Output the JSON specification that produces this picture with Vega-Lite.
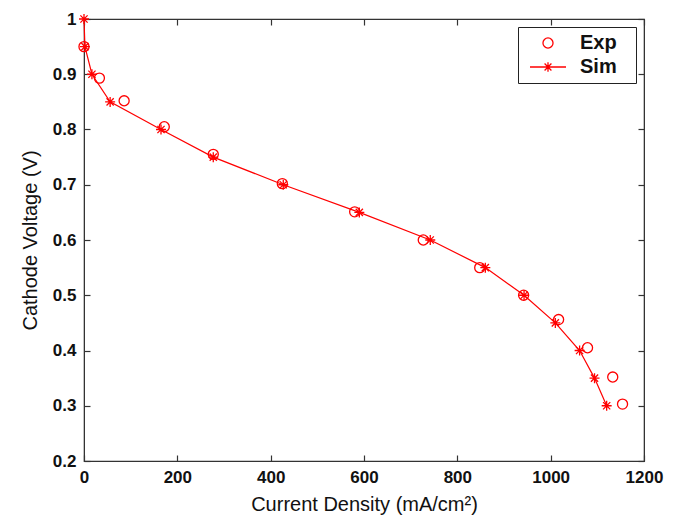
{
  "$schema": "https://vega.github.io/schema/vega-lite/v6.json",
  "width": 560,
  "height": 442,
  "autosize": {"type": "none"},
  "padding": {"left": 84, "top": 19, "right": 36, "bottom": 59},
  "background": "white",
  "config": {
    "font": "Liberation Sans",
    "view": {"stroke": "#333333", "strokeWidth": 1.2},
    "axis": {
      "grid": false,
      "domainColor": "#333333",
      "tickColor": "#333333",
      "labelColor": "#111111",
      "titleColor": "#111111",
      "labelFont": "Liberation Sans",
      "labelFontWeight": "bold",
      "labelFontSize": 17,
      "labelFlush": false,
      "titleFont": "Liberation Sans",
      "titleFontWeight": "normal",
      "titleFontSize": 20,
      "tickSize": -6,
      "tickWidth": 1.2
    }
  },
  "datasets": {
    "exp": [
      {"series": "Exp", "j": 0, "v": 0.95},
      {"series": "Exp", "j": 33, "v": 0.893},
      {"series": "Exp", "j": 86, "v": 0.852},
      {"series": "Exp", "j": 172, "v": 0.805},
      {"series": "Exp", "j": 277, "v": 0.755},
      {"series": "Exp", "j": 425, "v": 0.702},
      {"series": "Exp", "j": 580, "v": 0.651},
      {"series": "Exp", "j": 727, "v": 0.6},
      {"series": "Exp", "j": 848, "v": 0.55},
      {"series": "Exp", "j": 942, "v": 0.5},
      {"series": "Exp", "j": 1017, "v": 0.456},
      {"series": "Exp", "j": 1079, "v": 0.405},
      {"series": "Exp", "j": 1133, "v": 0.352},
      {"series": "Exp", "j": 1154, "v": 0.303}
    ],
    "sim": [
      {"series": "Sim", "j": 0, "v": 1.0},
      {"series": "Sim", "j": 2, "v": 0.95},
      {"series": "Sim", "j": 17, "v": 0.9},
      {"series": "Sim", "j": 56, "v": 0.85},
      {"series": "Sim", "j": 165, "v": 0.8},
      {"series": "Sim", "j": 277, "v": 0.75},
      {"series": "Sim", "j": 427, "v": 0.7},
      {"series": "Sim", "j": 590, "v": 0.65},
      {"series": "Sim", "j": 742, "v": 0.6},
      {"series": "Sim", "j": 860, "v": 0.55},
      {"series": "Sim", "j": 943, "v": 0.5},
      {"series": "Sim", "j": 1010, "v": 0.45},
      {"series": "Sim", "j": 1062, "v": 0.4},
      {"series": "Sim", "j": 1094, "v": 0.35},
      {"series": "Sim", "j": 1120, "v": 0.3}
    ]
  },
  "resolve": {"axis": {"x": "independent", "y": "independent"}},
  "layer": [
    {
      "data": {"name": "sim"},
      "mark": {"type": "line", "color": "#ff0000", "strokeWidth": 1.2},
      "encoding": {
        "x": {"field": "j", "type": "quantitative", "scale": {"domain": [0, 1200], "nice": false},
              "axis": {"orient": "bottom", "values": [0, 200, 400, 600, 800, 1000, 1200], "format": "d", "title": "Current Density (mA/cm²)", "labelPadding": 14, "titlePadding": 9}},
        "y": {"field": "v", "type": "quantitative", "scale": {"domain": [0.2, 1], "nice": false, "zero": false},
              "axis": {"orient": "left", "values": [0.2, 0.3, 0.4, 0.5, 0.6, 0.7, 0.8, 0.9, 1], "format": "~g", "title": "Cathode Voltage (V)", "labelPadding": 14, "titlePadding": 12}},
        "order": {"field": "v", "sort": "descending"}
      }
    },
    {
      "data": {"name": "sim"},
      "mark": {"type": "point", "shape": "M-1,0L1,0M0,-1L0,1M-0.72,-0.72L0.72,0.72M-0.72,0.72L0.72,-0.72", "size": 100, "filled": false, "stroke": "#ff0000", "strokeWidth": 1.3, "opacity": 1},
      "encoding": {
        "x": {"field": "j", "type": "quantitative", "scale": {"domain": [0, 1200], "nice": false},
              "axis": {"orient": "top", "values": [0, 200, 400, 600, 800, 1000, 1200], "labels": false, "title": null}},
        "y": {"field": "v", "type": "quantitative", "scale": {"domain": [0.2, 1], "nice": false, "zero": false},
              "axis": {"orient": "right", "values": [0.2, 0.3, 0.4, 0.5, 0.6, 0.7, 0.8, 0.9, 1], "labels": false, "title": null}}
      }
    },
    {
      "data": {"name": "exp"},
      "mark": {"type": "point", "size": 1296, "filled": false, "stroke": "#ff0000", "strokeWidth": 1.3, "opacity": 1},
      "encoding": {
        "x": {"field": "j", "type": "quantitative", "axis": null},
        "y": {"field": "v", "type": "quantitative", "axis": null},
        "shape": {
          "field": "series", "type": "nominal",
          "scale": {
            "domain": ["Exp", "Sim"],
            "range": [
              "M0.28,0A0.28,0.28,0,1,1,-0.28,0A0.28,0.28,0,1,1,0.28,0Z",
              "M-1,0L1,0M0,-0.26L0,0.26M-0.26,0L0.26,0M-0.19,-0.19L0.19,0.19M-0.19,0.19L0.19,-0.19"
            ]
          },
          "legend": {
            "title": null,
            "orient": "top-right",
            "offset": 8,
            "fillColor": "white",
            "strokeColor": "#222222",
            "padding": 4,
            "clipHeight": 24,
            "symbolSize": 1296,
            "symbolOffset": 7,
            "symbolStrokeColor": "#ff0000",
            "symbolFillColor": "rgba(0,0,0,0)",
            "symbolStrokeWidth": 1.3,
            "labelFont": "Liberation Sans",
            "labelFontWeight": "bold",
            "labelFontSize": 20,
            "labelColor": "#111111",
            "labelOffset": 13,
            "labelExpr": "datum.label + '\u2800'",
            "rowPadding": 0
          }
        }
      }
    }
  ]
}
